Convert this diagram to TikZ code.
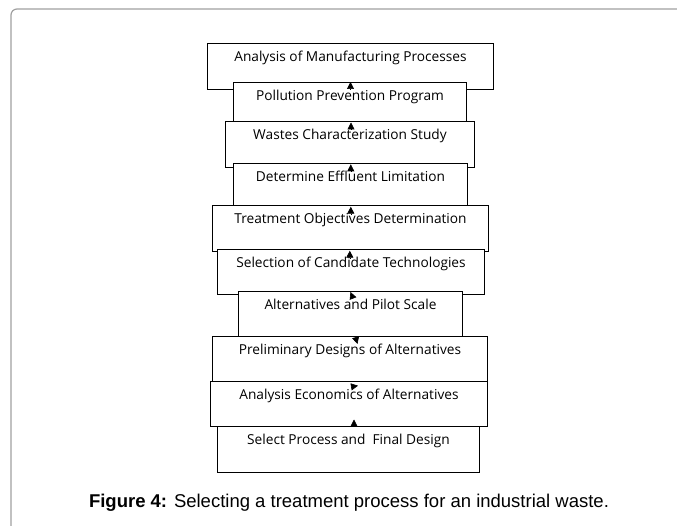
\documentclass[tikz,border=0pt]{standalone}
\usepackage{fontspec}
\setmainfont{Liberation Sans}
\newfontfamily\boxfont{Open Sans}
\usetikzlibrary{arrows.meta,calc}
\definecolor{framecol}{HTML}{A0A0A0}
\tikzset{
  stagebox/.style={draw=black, line width=1pt, fill=white, inner sep=0pt, anchor=north west},
  stagetext/.style={anchor=base, inner sep=0pt, font=\boxfont\fontsize{13.7}{15}\selectfont},
  arr/.style={-{Triangle[length=7pt,width=7pt]}, line width=0.6pt, shorten <=3pt}
}
\newcommand{\stage}[6]{%
  \node[stagebox, minimum width=#4-#2, minimum height=#5-#3] (#1) at (#2,#3) {};
  \node[stagetext] (#1t) at ($(#1.north)+(0,18.5)$) {#6};
}
\begin{document}
\begin{tikzpicture}[x=1pt,y=-1pt]
\useasboundingbox (0,0) rectangle (677,526);
\draw[framecol, line width=1.2pt, rounded corners=6pt] (11,540) -- (11,9) -- (690,9);
\stage{b1}{207}{43}{493}{89}{Analysis of Manufacturing Processes}
\stage{b2}{233}{82}{466}{121}{Pollution Prevention Program}
\stage{b3}{225}{121}{474}{167}{Wastes Characterization Study}
\stage{b4}{233}{163}{467}{205}{Determine Effluent Limitation}
\stage{b5}{212}{205}{488}{251}{Treatment Objectives Determination}
\stage{b6}{217}{249}{484}{294}{Selection of Candidate Technologies}
\stage{b7}{238}{291}{462}{336}{Alternatives and Pilot Scale}
\stage{b8}{212}{336}{487}{381}{Preliminary Designs of Alternatives}
\stage{b9}{210}{381}{487}{426}{Analysis Economics of Alternatives}
\stage{b10}{217}{426}{479}{472}{Select Process and~ Final Design}
% arrowheads (connectors from each stage to the one above)
\draw[arr] ($(b2.north)+(0.5,10)$) -- ($(b2.north)+(0.5,0)$);
\draw[arr] ($(b3.north)+(1,11.5)$) -- ($(b3.north)+(1,1.5)$);
\draw[arr] ($(b4.north)+(0.3,11.3)$) -- ($(b4.north)+(0.3,1.3)$);
\draw[arr] ($(b5.north)+(0.3,11.7)$) -- ($(b5.north)+(0.3,1.7)$);
\draw[arr] ($(b6.north)+(-1.2,11.7)$) -- ($(b6.north)+(-1.2,1.7)$);
\draw[arr] ($(b7.north)+(3.6,10.3)$) -- ($(b7.north)+(0,1)$);
\draw[arr] ($(b8.north)+(4.75,-1.6)$) -- ($(b8.north)+(7.5,8)$);
\draw[arr] ($(b9.north)+(-0.85,6.37)$) -- ($(b9.north)+(9,4.7)$);
\draw[arr] ($(b10.north)+(5.5,3.5)$) -- ($(b10.north)+(5.5,-6.5)$);
\node[anchor=base, inner sep=0pt, font=\fontsize{18.5}{21}\selectfont] (cap) at (349,507)
  {\textbf{Figure 4:} Selecting a treatment process for an industrial waste.};
\end{tikzpicture}
\end{document}
